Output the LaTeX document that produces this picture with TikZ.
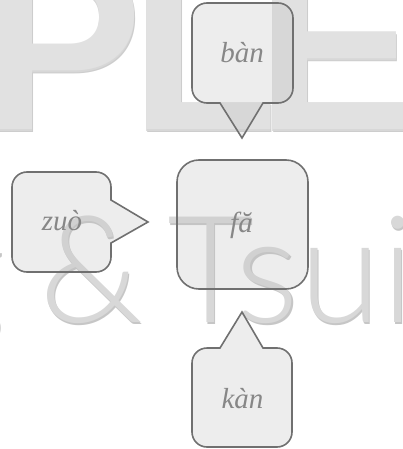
\documentclass[tikz,border=0pt]{standalone}
\usepackage{fontspec}
\newfontfamily\wmbold{Liberation Sans}
\newfontfamily\wmlight{Lato Light}
\newfontfamily\wordfont{Liberation Serif}
\definecolor{wmfill}{HTML}{E1E1E1}
\definecolor{wmshade}{HTML}{CDCDCD}
\definecolor{wmshadeb}{HTML}{D7D7D7}
\definecolor{wmthin}{HTML}{D8D8D8}
\definecolor{wmthinshade}{HTML}{C6C6C6}
\definecolor{boxline}{HTML}{707070}
\definecolor{boxfill}{HTML}{BFBFBF}
\definecolor{txtgray}{HTML}{878787}
\tikzset{
  bigwm/.style={inner sep=0pt, anchor=base west, font=\wmbold\bfseries\fontsize{242}{242}\selectfont},
  thinwm/.style={inner sep=0pt, font=\wmlight\fontsize{149}{149}\selectfont},
  bubble/.style={draw=boxline, line width=1.6pt, fill=boxfill, fill opacity=0.28, line join=miter},
  word/.style={inner sep=0pt, anchor=base, text=txtgray, font=\wordfont\itshape\fontsize{29}{29}\selectfont}
}
\begin{document}
\begin{tikzpicture}[x=1pt,y=-1pt]
\useasboundingbox (0,0) rectangle (403,449);
\clip (0,0) rectangle (403,449);
% watermark shadow
\begin{scope}[shift={(1.2,2.6)}]
\node[bigwm, text=wmshade] (ps) at (-19,130) {P};
\node[bigwm, text=wmshade] (ls) at (130,130) {L};
\node[bigwm, text=wmshade] (es) at (256,130) {E};
\node[thinwm, text=wmthinshade, anchor=base east] (chs) at (5,322) {Cheng};
\node[thinwm, text=wmthinshade, anchor=base west] (amps) at (39,322) {\&};
\node[thinwm, text=wmthinshade, anchor=base west] (tsuis) at (167,322) {Tsui};
\end{scope}
\begin{scope}[shift={(0.6,1.3)}]
\node[bigwm, text=wmshadeb] (psb) at (-19,130) {P};
\node[bigwm, text=wmshadeb] (lsb) at (130,130) {L};
\node[bigwm, text=wmshadeb] (esb) at (256,130) {E};
\end{scope}
% watermark
\node[bigwm, text=wmfill] (p) at (-19,130) {P};
\node[bigwm, text=wmfill] (l) at (130,130) {L};
\node[bigwm, text=wmfill] (e) at (256,130) {E};
\node[thinwm, text=wmthin, anchor=base east] (ch) at (5,322) {Cheng};
\node[thinwm, text=wmthin, anchor=base west] (amp) at (39,322) {\&};
\node[thinwm, text=wmthin, anchor=base west] (tsui) at (167,322) {Tsui};
% callouts
\path[bubble] (207,3) -- (278,3) .. controls (286.28,3) and (293,9.72) .. (293,18) -- (293,88) .. controls (293,96.28) and (286.28,103) .. (278,103) -- (263,103) -- (242,138) -- (220,103) -- (207,103) .. controls (198.72,103) and (192,96.28) .. (192,88) -- (192,18) .. controls (192,9.72) and (198.72,3) .. (207,3) -- cycle;
\path[bubble] (27,172) -- (96,172) .. controls (104.28,172) and (111,178.72) .. (111,187) -- (111,200) -- (148,222) -- (111,243) -- (111,257) .. controls (111,265.28) and (104.28,272) .. (96,272) -- (27,272) .. controls (18.72,272) and (12,265.28) .. (12,257) -- (12,187) .. controls (12,178.72) and (18.72,172) .. (27,172) -- cycle;
\node[bubble, rounded corners=22pt, minimum width=131pt, minimum height=129pt, inner sep=0pt] (fabox) at (242.5,224.5) {};
\path[bubble] (207,348) -- (220,348) -- (242,312) -- (263,348) -- (277,348) .. controls (285.28,348) and (292,354.72) .. (292,363) -- (292,432) .. controls (292,440.28) and (285.28,447) .. (277,447) -- (207,447) .. controls (198.72,447) and (192,440.28) .. (192,432) -- (192,363) .. controls (192,354.72) and (198.72,348) .. (207,348) -- cycle;
% words
\node[word] (ban) at (242,63) {bàn};
\node[word] (zuo) at (62,230) {zuò};
\node[word] (fa) at (241.5,232) {fă};
\node[word] (kan) at (242.5,408) {kàn};
\end{tikzpicture}
\end{document}
